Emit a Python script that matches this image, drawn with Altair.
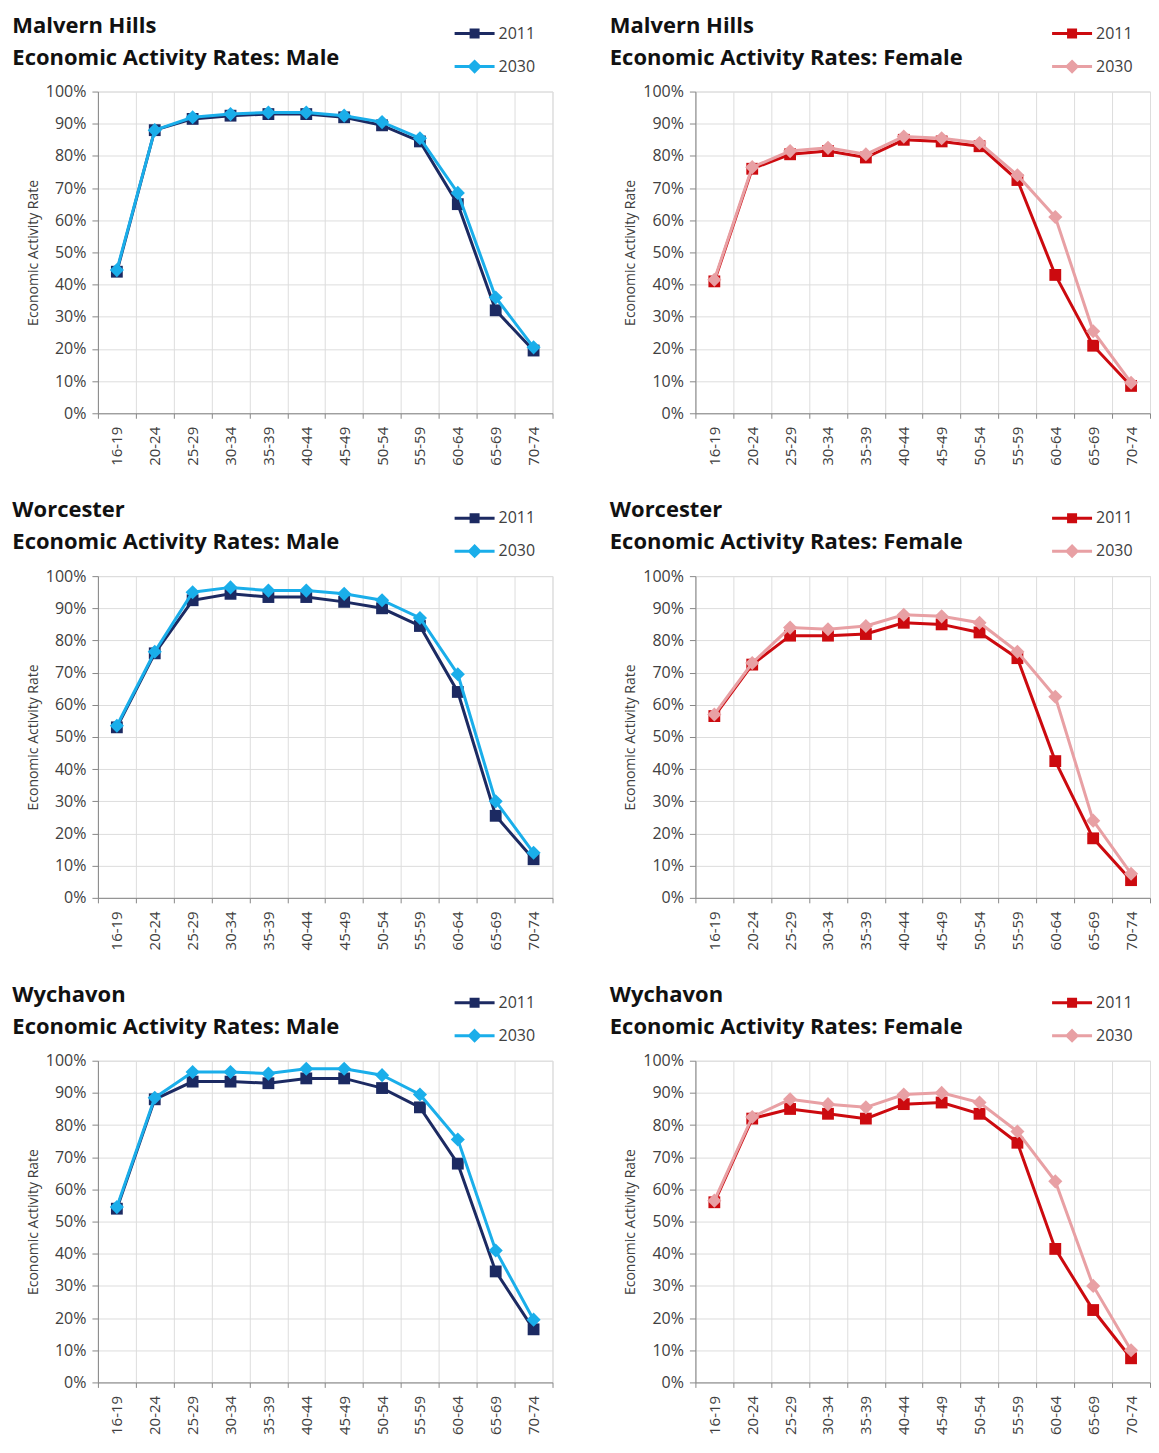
import altair as alt
import pandas as pd

AGES = ["16-19", "20-24", "25-29", "30-34", "35-39", "40-44",
        "45-49", "50-54", "55-59", "60-64", "65-69", "70-74"]
YEARS = ["2011", "2030"]
Y_TICKS = [0, 0.1, 0.2, 0.3, 0.4, 0.5, 0.6, 0.7, 0.8, 0.9, 1.0]

DISTRICTS = ["Malvern Hills", "Worcester", "Wychavon"]

# values in percent
malvern_male_2011 = [44, 88, 91.5, 92.5, 93, 93, 92, 89.5, 84.5, 65, 32, 19.5]
malvern_male_2030 = [44.5, 88, 92, 93, 93.5, 93.5, 92.5, 90.5, 85.5, 68.5, 36, 20.5]
malvern_female_2011 = [41, 76, 80.5, 81.5, 79.5, 85, 84.5, 83, 72.5, 43, 21, 8.5]
malvern_female_2030 = [41.5, 76.5, 81.5, 82.5, 80.5, 86, 85.5, 84, 74, 61, 25.5, 9.5]

worcester_male_2011 = [53, 76, 92.5, 94.5, 93.5, 93.5, 92, 90, 84.5, 64, 25.5, 12]
worcester_male_2030 = [53.5, 76.5, 95, 96.5, 95.5, 95.5, 94.5, 92.5, 87, 69.5, 30, 14]
worcester_female_2011 = [56.5, 72.5, 81.5, 81.5, 82, 85.5, 85, 82.5, 74.5, 42.5, 18.5, 5.5]
worcester_female_2030 = [57, 73, 84, 83.5, 84.5, 88, 87.5, 85.5, 76.5, 62.5, 24, 7.5]

wychavon_male_2011 = [54, 88, 93.5, 93.5, 93, 94.5, 94.5, 91.5, 85.5, 68, 34.5, 16.5]
wychavon_male_2030 = [54.5, 88.5, 96.5, 96.5, 96, 97.5, 97.5, 95.5, 89.5, 75.5, 41, 19.5]
wychavon_female_2011 = [56, 82, 85, 83.5, 82, 86.5, 87, 83.5, 74.5, 41.5, 22.5, 7.5]
wychavon_female_2030 = [56.5, 82.5, 88, 86.5, 85.5, 89.5, 90, 87, 78, 62.5, 30, 10]

MALE_COLORS = {"2011": "#1C2A62", "2030": "#1AAEEA"}
FEMALE_COLORS = {"2011": "#CC0A0F", "2030": "#E8A0A4"}

FONT = "Open Sans"
PW, PH = 455, 322

LEGEND_PATHS = [
    "M-4,0H4M-0.7,-0.7H0.7V0.7H-0.7Z",
    "M-4,0H4M0,-1L1,0L0,1L-1,0Z",
]


def panel(district, sex, v2011, v2030, colors):
    df = pd.DataFrame({
        "age": AGES * 2,
        "year": ["2011"] * len(AGES) + ["2030"] * len(AGES),
        "rate": [v / 100 for v in v2011 + v2030],
    })
    base = alt.Chart(df)
    x = alt.X(
        "age:N", sort=AGES,
        scale=alt.Scale(type="band", domain=AGES, paddingInner=0, paddingOuter=0),
        axis=alt.Axis(title=None, labelAngle=270, tickBand="extent", labelFont=FONT,
                      labelFontSize=15, labelColor="#404040", labelPadding=8,
                      tickSize=5, grid=True),
    )
    y = alt.Y(
        "rate:Q",
        scale=alt.Scale(domain=[0, 1], nice=False),
        axis=alt.Axis(values=Y_TICKS, format=".0%", title="Economic Activity Rate",
                      titleFont=FONT, titleFontSize=14, titleFontWeight="normal",
                      titleColor="#404040", titlePadding=5, labelFont=FONT,
                      labelFontSize=16, labelColor="#404040", labelPadding=6,
                      tickSize=6),
    )
    layers = []
    for yr, shape, size in [("2011", "square", 140), ("2030", "diamond", 200)]:
        c = colors[yr]
        layers.append(
            base.transform_filter(alt.datum.year == yr)
            .mark_line(color=c, strokeWidth=3,
                       point=alt.OverlayMarkDef(shape=shape, size=size, filled=True,
                                                color=c, opacity=1))
            .encode(x=x, y=y)
        )
    leg = alt.Legend(
        title=None, orient="none", legendX=369, legendY=-66, direction="vertical",
        labelFont=FONT, labelFontSize=16, labelColor="#404040", symbolSize=100,
        symbolStrokeWidth=3, labelOffset=16, rowPadding=12, padding=0,
    )
    rng = [colors[y_] for y_ in YEARS]
    legend_layer = (
        base.transform_filter("false")
        .mark_point(filled=True, strokeWidth=3, opacity=1)
        .encode(
            x=x, y=y,
            fill=alt.Fill("year:N", scale=alt.Scale(domain=YEARS, range=rng), legend=leg),
            stroke=alt.Stroke("year:N", scale=alt.Scale(domain=YEARS, range=rng), legend=leg),
            shape=alt.Shape("year:N", scale=alt.Scale(domain=YEARS, range=LEGEND_PATHS), legend=leg),
        )
    )
    return alt.layer(*layers, legend_layer).properties(
        width=PW, height=PH,
        title=alt.TitleParams(
            text=[district, f"Economic Activity Rates: {sex}"],
            anchor="start", frame="bounds", font=FONT, fontSize=22,
            fontWeight="bold", lineHeight=32, offset=18, dx=-14, dy=62,
            color="#111111",
        ),
    )


series = {
    "Malvern Hills": (malvern_male_2011, malvern_male_2030, malvern_female_2011, malvern_female_2030),
    "Worcester": (worcester_male_2011, worcester_male_2030, worcester_female_2011, worcester_female_2030),
    "Wychavon": (wychavon_male_2011, wychavon_male_2030, wychavon_female_2011, wychavon_female_2030),
}

panels = []
for d in DISTRICTS:
    m11, m30, f11, f30 = series[d]
    panels.append(panel(d, "Male", m11, m30, MALE_COLORS))
    panels.append(panel(d, "Female", f11, f30, FEMALE_COLORS))

chart = (
    alt.concat(*panels, columns=2, spacing={"row": 32, "column": 55})
    .resolve_scale(fill="independent", stroke="independent", shape="independent")
    .resolve_legend(fill="independent", stroke="independent", shape="independent")
    .properties(padding={"left": 3, "top": 5, "right": 0, "bottom": 0})
    .configure_view(stroke="#A6A6A6", strokeWidth=1)
    .configure_axis(gridColor="#D9D9D9", gridWidth=1, domainColor="#868686",
                    tickColor="#868686", domainWidth=1)
    .configure(background="white")
)

chart.save("out.html", embed_options={"renderer": "svg", "actions": False})
